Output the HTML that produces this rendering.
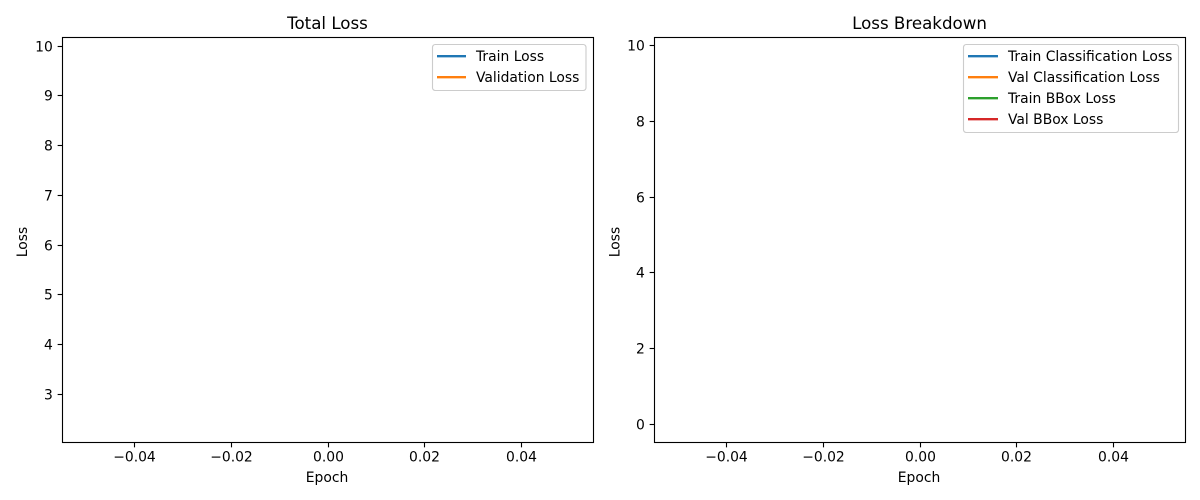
<!DOCTYPE html>
<html lang="en">
<head>
<meta charset="utf-8">
<title>Training Loss Charts</title>
<style>
html,body{margin:0;padding:0;background:#fff;width:1200px;height:500px;overflow:hidden}
svg{display:block}
text{font-family:"DejaVu Sans","Liberation Sans",sans-serif;fill:#000;font-size:13.89px}
.title{font-size:16.67px}
.leg-text{fill:#000}
</style>
</head>
<body>
<svg id="chart" xmlns="http://www.w3.org/2000/svg" width="1200" height="500" viewBox="0 0 1200 500">
  <rect x="0" y="0" width="1200" height="500" fill="#fff"/>

  <g id="panel-total">
    <text class="title" x="327.5" y="29" text-anchor="middle">Total Loss</text>
    <text x="327" y="482" text-anchor="middle">Epoch</text>
    <text transform="translate(27 242) rotate(-90)" text-anchor="middle">Loss</text>
  </g>

  <g id="panel-breakdown">
    <text class="title" x="919.5" y="29" text-anchor="middle">Loss Breakdown</text>
    <text x="919" y="482" text-anchor="middle">Epoch</text>
    <text transform="translate(619.5 242) rotate(-90)" text-anchor="middle">Loss</text>
  </g>

  <rect x="62.5" y="37.5" width="531" height="405" fill="none" stroke="#000" stroke-width="1.11"/>
  <rect x="654.5" y="37.5" width="531" height="405" fill="none" stroke="#000" stroke-width="1.11"/>

  <g>
    <rect x="432.5" y="44.5" width="153.5" height="46" rx="2.8" fill="#fff" fill-opacity="0.8" stroke="#ccc" stroke-width="1.11"/>
    <g>
      <line x1="437" y1="56.2" x2="466" y2="56.2" stroke="#1f77b4" stroke-width="2.3"/>
      <text class="leg-text" x="476" y="61">Train Loss</text>
    </g>
    <g>
      <line x1="437" y1="77.2" x2="466" y2="77.2" stroke="#ff7f0e" stroke-width="2.3"/>
      <text class="leg-text" x="476" y="82">Validation Loss</text>
    </g>
  </g>

  <g>
    <rect x="963.5" y="44.5" width="215" height="88" rx="2.8" fill="#fff" fill-opacity="0.8" stroke="#ccc" stroke-width="1.11"/>
    <g>
      <line x1="968" y1="56.2" x2="998" y2="56.2" stroke="#1f77b4" stroke-width="2.3"/>
      <text class="leg-text" x="1008" y="61">Train Classification Loss</text>
    </g>
    <g>
      <line x1="968" y1="77.2" x2="998" y2="77.2" stroke="#ff7f0e" stroke-width="2.3"/>
      <text class="leg-text" x="1008" y="82">Val Classification Loss</text>
    </g>
    <g>
      <line x1="968" y1="98.2" x2="998" y2="98.2" stroke="#2ca02c" stroke-width="2.3"/>
      <text class="leg-text" x="1008" y="103">Train BBox Loss</text>
    </g>
    <g>
      <line x1="968" y1="119.2" x2="998" y2="119.2" stroke="#d62728" stroke-width="2.3"/>
      <text class="leg-text" x="1008" y="124">Val BBox Loss</text>
    </g>
  </g>
</svg>
<script>
const epochs = [0];
const trainLoss = [9.804];
const validationLoss = [2.403];
const trainClassificationLoss = [0.09];
const valClassificationLoss = [0.011];
const trainBBoxLoss = [9.725];
const valBBoxLoss = [2.39];
const xTickValues = [-0.04, -0.02, 0, 0.02, 0.04];
const xTickLabels = ["\u22120.04", "\u22120.02", "0.00", "0.02", "0.04"];
const totalYTickValues = [3, 4, 5, 6, 7, 8, 9, 10];
const breakdownYTickValues = [0, 2, 4, 6, 8, 10];

const NS = "http://www.w3.org/2000/svg";

function extent(values) {
  let lo = Math.min.apply(null, values);
  let hi = Math.max.apply(null, values);
  if (lo === hi) { lo -= 0.05; hi += 0.05; }
  const pad = (hi - lo) * 0.05;
  return [lo - pad, hi + pad];
}

function makeScale(domain, r0, r1) {
  return function (v) {
    return r0 + (v - domain[0]) / (domain[1] - domain[0]) * (r1 - r0);
  };
}

function snap(v) {
  return Math.floor(v) + 0.5;
}

function drawPanel(panelId, left, right, yTicks, seriesList) {
  const panel = document.getElementById(panelId);
  const top = 37.5, bottom = 442.5;
  const all = [];
  seriesList.forEach(function (s) { s.values.forEach(function (v) { all.push(v); }); });
  const x = makeScale(extent(epochs), left, right);
  const y = makeScale(extent(all), bottom, top);

  xTickValues.forEach(function (value, i) {
    const px = snap(x(value));
    const tick = document.createElementNS(NS, "line");
    
    
    tick.setAttribute("x1", px);
    tick.setAttribute("x2", px);
    tick.setAttribute("y1", bottom);
    tick.setAttribute("y2", bottom + 4.86);
    tick.setAttribute("stroke", "#000");
    tick.setAttribute("stroke-width", "1.11");
    panel.appendChild(tick);
    const label = document.createElementNS(NS, "text");
    
    
    label.setAttribute("x", px);
    label.setAttribute("y", bottom + 19);
    label.setAttribute("text-anchor", "middle");
    label.textContent = xTickLabels[i];
    panel.appendChild(label);
  });

  yTicks.forEach(function (value) {
    const py = snap(y(value));
    const tick = document.createElementNS(NS, "line");
    
    
    tick.setAttribute("x1", left);
    tick.setAttribute("x2", left - 4.86);
    tick.setAttribute("y1", py);
    tick.setAttribute("y2", py);
    tick.setAttribute("stroke", "#000");
    tick.setAttribute("stroke-width", "1.11");
    panel.appendChild(tick);
    const label = document.createElementNS(NS, "text");
    
    
    label.setAttribute("x", left - 9.7);
    label.setAttribute("y", py + 5);
    label.setAttribute("text-anchor", "end");
    label.textContent = String(value);
    panel.appendChild(label);
  });

  seriesList.forEach(function (s) {
    const pts = s.values.map(function (v, i) {
      return x(epochs[i]).toFixed(2) + "," + y(v).toFixed(2);
    }).join(" ");
    const line = document.createElementNS(NS, "polyline");
    
    
    line.setAttribute("points", pts);
    line.setAttribute("fill", "none");
    line.setAttribute("stroke", s.color);
    line.setAttribute("stroke-width", "2.08");
    panel.appendChild(line);
  });
}

drawPanel("panel-total", 62.5, 593.5, totalYTickValues, [
  { name: "train-loss-line", color: "#1f77b4", values: trainLoss },
  { name: "validation-loss-line", color: "#ff7f0e", values: validationLoss }
]);
drawPanel("panel-breakdown", 654.5, 1185.5, breakdownYTickValues, [
  { name: "train-classification-loss-line", color: "#1f77b4", values: trainClassificationLoss },
  { name: "val-classification-loss-line", color: "#ff7f0e", values: valClassificationLoss },
  { name: "train-bbox-loss-line", color: "#2ca02c", values: trainBBoxLoss },
  { name: "val-bbox-loss-line", color: "#d62728", values: valBBoxLoss }
]);
</script>
</body>
</html>
